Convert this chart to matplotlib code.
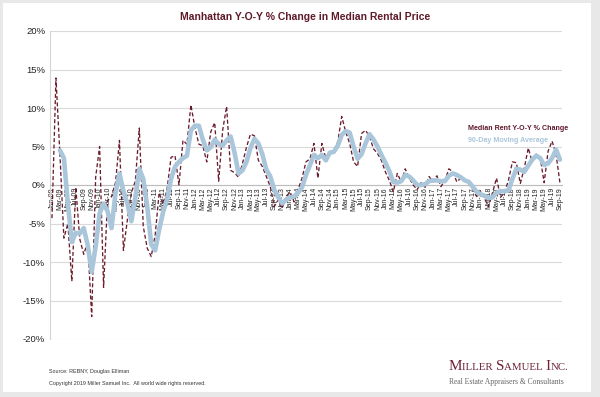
import numpy as np
import matplotlib
matplotlib.use('Agg')
import matplotlib.pyplot as plt
from matplotlib.patches import Rectangle
from matplotlib.text import Annotation

plt.rcParams['font.family'] = ['Liberation Sans', 'DejaVu Sans']

# monthly categories Jan-09 .. Sep-19
month_names = ['Jan', 'Feb', 'Mar', 'Apr', 'May', 'Jun',
               'Jul', 'Aug', 'Sep', 'Oct', 'Nov', 'Dec']
months = ['%s-%02d' % (m, y % 100) for y in range(2009, 2020) for m in month_names][:129]

# Median Rent Y-O-Y % Change
rent_yoy = [
    -4.3, 13.9, 4.0, -6.9, -5.0, -12.5, -0.3, -7.0, -9.0, -7.4, -17.1, 1.0,   # 2009
    5.0, -13.3, -2.0, -1.5, 0.3, 5.8, -8.5, -4.5, -1.0, 0.5, 7.4, -5.4,      # 2010
    -8.2, -9.3, -6.5, -1.0, -2.5, -0.5, 3.6, 3.8, 0.0, 5.8, 5.3, 10.4,       # 2011
    7.5, 5.3, 5.1, 3.0, 6.9, 8.1, 0.5, 7.1, 10.2, 1.9, 1.6, 1.0,             # 2012
    2.8, 4.9, 6.6, 6.4, 3.2, 2.4, 1.1, -0.2, -2.8, -1.9, -3.0, -1.5,         # 2013
    -0.9, -2.2, -0.6, 0.9, 3.0, 3.4, 5.4, 0.9, 5.4, 3.4, 4.3, 4.5,           # 2014
    5.6, 8.9, 6.9, 5.4, 3.0, 2.4, 6.7, 7.1, 6.3, 4.7, 4.1, 3.2,              # 2015
    1.7, 0.6, -0.9, 1.5, 0.4, 2.1, 0.9, 0.0, -0.6, 0.3, -0.3, 1.1,           # 2016
    0.4, 1.2, -0.2, 0.6, 2.1, 1.7, 0.4, 0.9, 0.6, 0.2, -0.6, -1.5,           # 2017
    -0.8, -1.8, -2.8, -1.0, 0.9, -1.6, -1.0, 0.6, 3.0, 2.9, 0.2, 2.2,        # 2018
    4.8, 3.0, 4.0, 3.6, 0.3, 4.4, 5.7, 4.0, 0.2,                             # 2019
]

# 90-Day Moving Average (starts Mar-09)
moving_avg = [
    np.nan, np.nan, 4.5, 3.5, -2.4, -7.4, -6.2, -6.3, -5.6, -7.8, -11.3, -8.0,   # 2009
    -3.7, -2.4, -3.4, -5.6, -1.1, 1.5, -0.8, -2.4, -4.7, -1.6, 2.1, 0.8,         # 2010
    -2.8, -7.7, -8.5, -5.8, -3.5, -1.8, 0.8, 2.4, 3.0, 3.5, 3.8, 7.1,            # 2011
    7.7, 7.7, 5.9, 4.5, 4.9, 5.9, 5.3, 5.1, 5.8, 6.3, 4.2, 1.5,                  # 2012
    1.9, 3.0, 4.8, 6.0, 5.4, 4.0, 2.0, 1.1, -0.6, -1.6, -2.4, -1.9,              # 2013
    -1.6, -1.5, -1.0, -0.3, 1.3, 2.6, 3.9, 3.5, 3.9, 3.2, 4.2, 4.3,              # 2014
    5.1, 6.5, 7.0, 6.8, 5.0, 3.4, 4.0, 5.4, 6.6, 5.9, 5.0, 3.9,                  # 2015
    2.9, 1.8, 0.4, 0.3, 0.5, 1.3, 1.1, 0.6, 0.0, 0.0, 0.1, 0.5,                  # 2016
    0.6, 0.6, 0.5, 0.5, 1.2, 1.5, 1.3, 1.0, 0.6, 0.4, -0.2, -0.9,                # 2017
    -1.2, -1.4, -1.7, -1.6, -1.0, -0.8, -0.8, -0.7, 0.8, 2.1, 2.0, 1.7,          # 2018
    2.5, 3.3, 3.8, 3.5, 2.6, 2.8, 3.5, 4.6, 3.3,                                 # 2019
]

yticks = [-20, -15, -10, -5, 0, 5, 10, 15, 20]

maroon = '#5e1a2b'
dash_col = '#6a1c2d'
blue = '#a9c6db'

W, H = 600, 397
fig = plt.figure(figsize=(W / 100, H / 100), dpi=100)
fig.patch.set_facecolor('#e8e8e8')
fig.add_artist(Rectangle((3 / W, 1 - 392 / H), 588 / W, 389 / H,
                         transform=fig.transFigure, facecolor='white',
                         edgecolor='none', zorder=-5))

ax = fig.add_axes([50 / W, 1 - 339 / H, 512 / W, 308 / H])
ax.set_facecolor('none')

x = np.arange(len(months))
ax.plot(x, rent_yoy, color=dash_col, lw=0.95, dashes=(3, 1.8), zorder=3)
ax.plot(x, moving_avg, color=blue, lw=3.3, solid_joinstyle='round',
        solid_capstyle='round', zorder=4)

ax.set_xlim(-0.5, len(months) - 0.5)
ax.set_ylim(-20, 20)
ax.set_yticks(yticks)
ax.set_yticklabels(['%d%%' % v for v in yticks])
ax.yaxis.grid(True, color='#d9d9d9', lw=0.8)
ax.set_axisbelow(True)

ax.spines['bottom'].set_position(('data', 0))
ax.spines['top'].set_visible(False)
ax.spines['right'].set_visible(False)
ax.spines['left'].set_color('#d4d4d4')
ax.spines['bottom'].set_color('#bdbdbd')
ax.spines['left'].set_linewidth(0.8)
ax.spines['bottom'].set_linewidth(0.8)

ax.set_xticks(x[::2])
ax.set_xticklabels(months[::2], rotation=90, fontsize=5, color='#222222')
ax.tick_params(axis='x', length=0, pad=1.5)
ax.tick_params(axis='y', length=0, labelsize=6.8, pad=3.5, labelcolor='#222222')

# title
fig.text(305 / W, 1 - 17 / H, 'Manhattan Y-O-Y % Change in Median Rental Price',
         ha='center', va='center', fontsize=7.5, fontweight='bold', color=maroon)

# legend as plain text
fig.text(468 / W, 1 - 128 / H, 'Median Rent Y-O-Y % Change', ha='left', va='center',
         fontsize=5.1, fontweight='bold', color=maroon)
fig.text(468 / W, 1 - 141 / H, '90-Day Moving Average', ha='left', va='center',
         fontsize=5.1, fontweight='bold', color=blue)

# footer
fig.text(49 / W, 1 - 372 / H, 'Source: REBNY, Douglas Elliman', ha='left', va='center',
         fontsize=3.9, color='#333333')
fig.text(49 / W, 1 - 383 / H,
         'Copyright 2019 Miller Samuel Inc.  All world wide rights reserved.',
         ha='left', va='center', fontsize=3.9, color='#333333')

# logo in small caps
pieces = [('M', 10.9), ('ILLER ', 7.8), ('S', 10.9), ('AMUEL ', 7.8), ('I', 10.9), ('NC.', 7.8)]
prev = fig.text(449 / W, 1 - 373 / H, pieces[0][0], fontsize=pieces[0][1],
                family='Liberation Serif', color='#6b2233', ha='left', va='bottom')
prev_fs = pieces[0][1]
for s, fs in pieces[1:]:
    ann = Annotation(s, xy=(1, 0), xycoords=prev,
                     xytext=(0, 0.216 * (prev_fs - fs)), textcoords='offset points',
                     fontsize=fs, family='Liberation Serif', color='#6b2233',
                     ha='left', va='bottom')
    fig.add_artist(ann)
    prev, prev_fs = ann, fs

fig.text(449 / W, 1 - 382 / H, 'Real Estate Appraisers & Consultants', ha='left',
         va='center', fontsize=5.5, family='Liberation Serif', color='#666666')

fig.savefig('out.png', dpi=100, facecolor=fig.get_facecolor())
